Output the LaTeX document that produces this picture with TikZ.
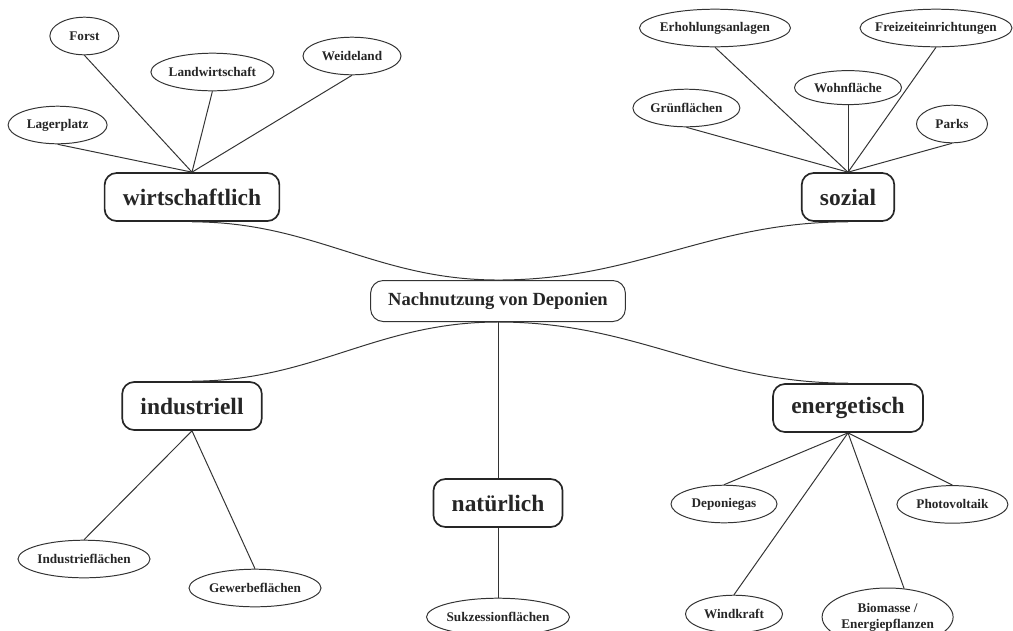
\documentclass[tikz,border=0pt]{standalone}
\usepackage{fontspec}
\setmainfont{Liberation Serif}
\usetikzlibrary{shapes.geometric}

\begin{document}
\begin{tikzpicture}[every edge/.style={draw=black!80, line width=.7pt}]
  \useasboundingbox (0,0) rectangle (25.325,-15.75);

  \node[draw=black!80, line width=.7pt, rounded corners=9pt, inner xsep=12.5pt, minimum height=1.025cm, text=black!85,
        font=\fontsize{13.2}{15}\selectfont\bfseries] (root) at (12.45,-7.525) {Nachnutzung von Deponien};

  \begin{scope}[every node/.style={draw=black!85, rounded corners=8.5pt, line width=1.2pt, inner xsep=13pt,
                minimum height=1.2cm, text=black!85, font=\fontsize{16.7}{20}\selectfont\bfseries}]
    \node (wirt)   at (4.8,-4.925)  {wirtschaftlich};
    \node (sozial) at (21.2,-4.925) {sozial};
    \node (ind)    at (4.8,-10.15)  {industriell};
    \node (nat)    at (12.45,-12.575) {natürlich};
    \node (energ)  at (21.2,-10.2)  {energetisch};
  \end{scope}

  \begin{scope}[every node/.style={draw=black!80, ellipse, line width=.7pt, inner xsep=-6pt, inner ysep=0pt,
                minimum height=.94cm, text=black!85, align=center, font=\fontsize{9.4}{11.4}\selectfont\bfseries}]
    % wirtschaftlich
    \node[minimum width=1.725cm] (forst) at (2.11,-0.9)  {Forst};
    \node[minimum width=3.075cm] (landw) at (5.31,-1.8)  {Landwirtschaft};
    \node[minimum width=2.45cm]  (weide) at (8.8,-1.4)   {Weideland};
    \node[minimum width=2.475cm] (lager) at (1.44,-3.125) {Lagerplatz};
    % sozial
    \node[minimum width=3.775cm] (erhol) at (17.875,-0.7) {Erhohlungsanlagen};
    \node[minimum width=3.8cm]   (freiz) at (23.4,-0.7)   {Freizeiteinrichtungen};
    \node[minimum width=2.675cm, minimum height=.85cm] (wohn) at (21.2,-2.19) {Wohnfläche};
    \node[minimum width=2.675cm] (gruen) at (17.16,-2.7)  {Grünflächen};
    \node[minimum width=1.775cm] (parks) at (23.8,-3.1)   {Parks};
    % industriell
    \node[minimum width=3.3cm] (indfl) at (2.1,-13.975)  {Industrieflächen};
    \node[minimum width=3.3cm] (gewfl) at (6.375,-14.7)  {Gewerbeflächen};
    % natuerlich
    \node[minimum width=3.575cm] (sukz) at (12.45,-15.425) {Sukzessionflächen};
    % energetisch
    \node[minimum width=2.65cm]  (depgas) at (18.1,-12.6)  {Deponiegas};
    \node[minimum width=2.775cm] (photo)  at (23.81,-12.61) {Photovoltaik};
    \node[minimum width=2.425cm] (wind)   at (18.35,-15.35) {Windkraft};
    \node[minimum width=3.275cm, minimum height=1.45cm] (bio) at (22.19,-15.425) {Biomasse /\\Energiepflanzen};
  \end{scope}

  \path (root.north) edge[out=180, in=0] (wirt.south)
                     edge[out=0, in=180] (sozial.south);
  \path (root.south) edge[out=180, in=0] (ind.north)
                     edge[out=0, in=180] (energ.north)
                     edge (nat.north);

  \path (wirt.north) edge (forst.south) edge (landw.south) edge (weide.south) edge (lager.south);
  \path (sozial.north) edge (erhol.south) edge (freiz.south) edge (wohn.south) edge (gruen.south) edge (parks.south);
  \path (ind.south) edge (indfl.north) edge (gewfl.north);
  \path (nat.south) edge (sukz.north);
  \path (energ.south) edge (depgas.north) edge (photo.north) edge (wind.north) edge (bio.60);

\end{tikzpicture}
\end{document}
